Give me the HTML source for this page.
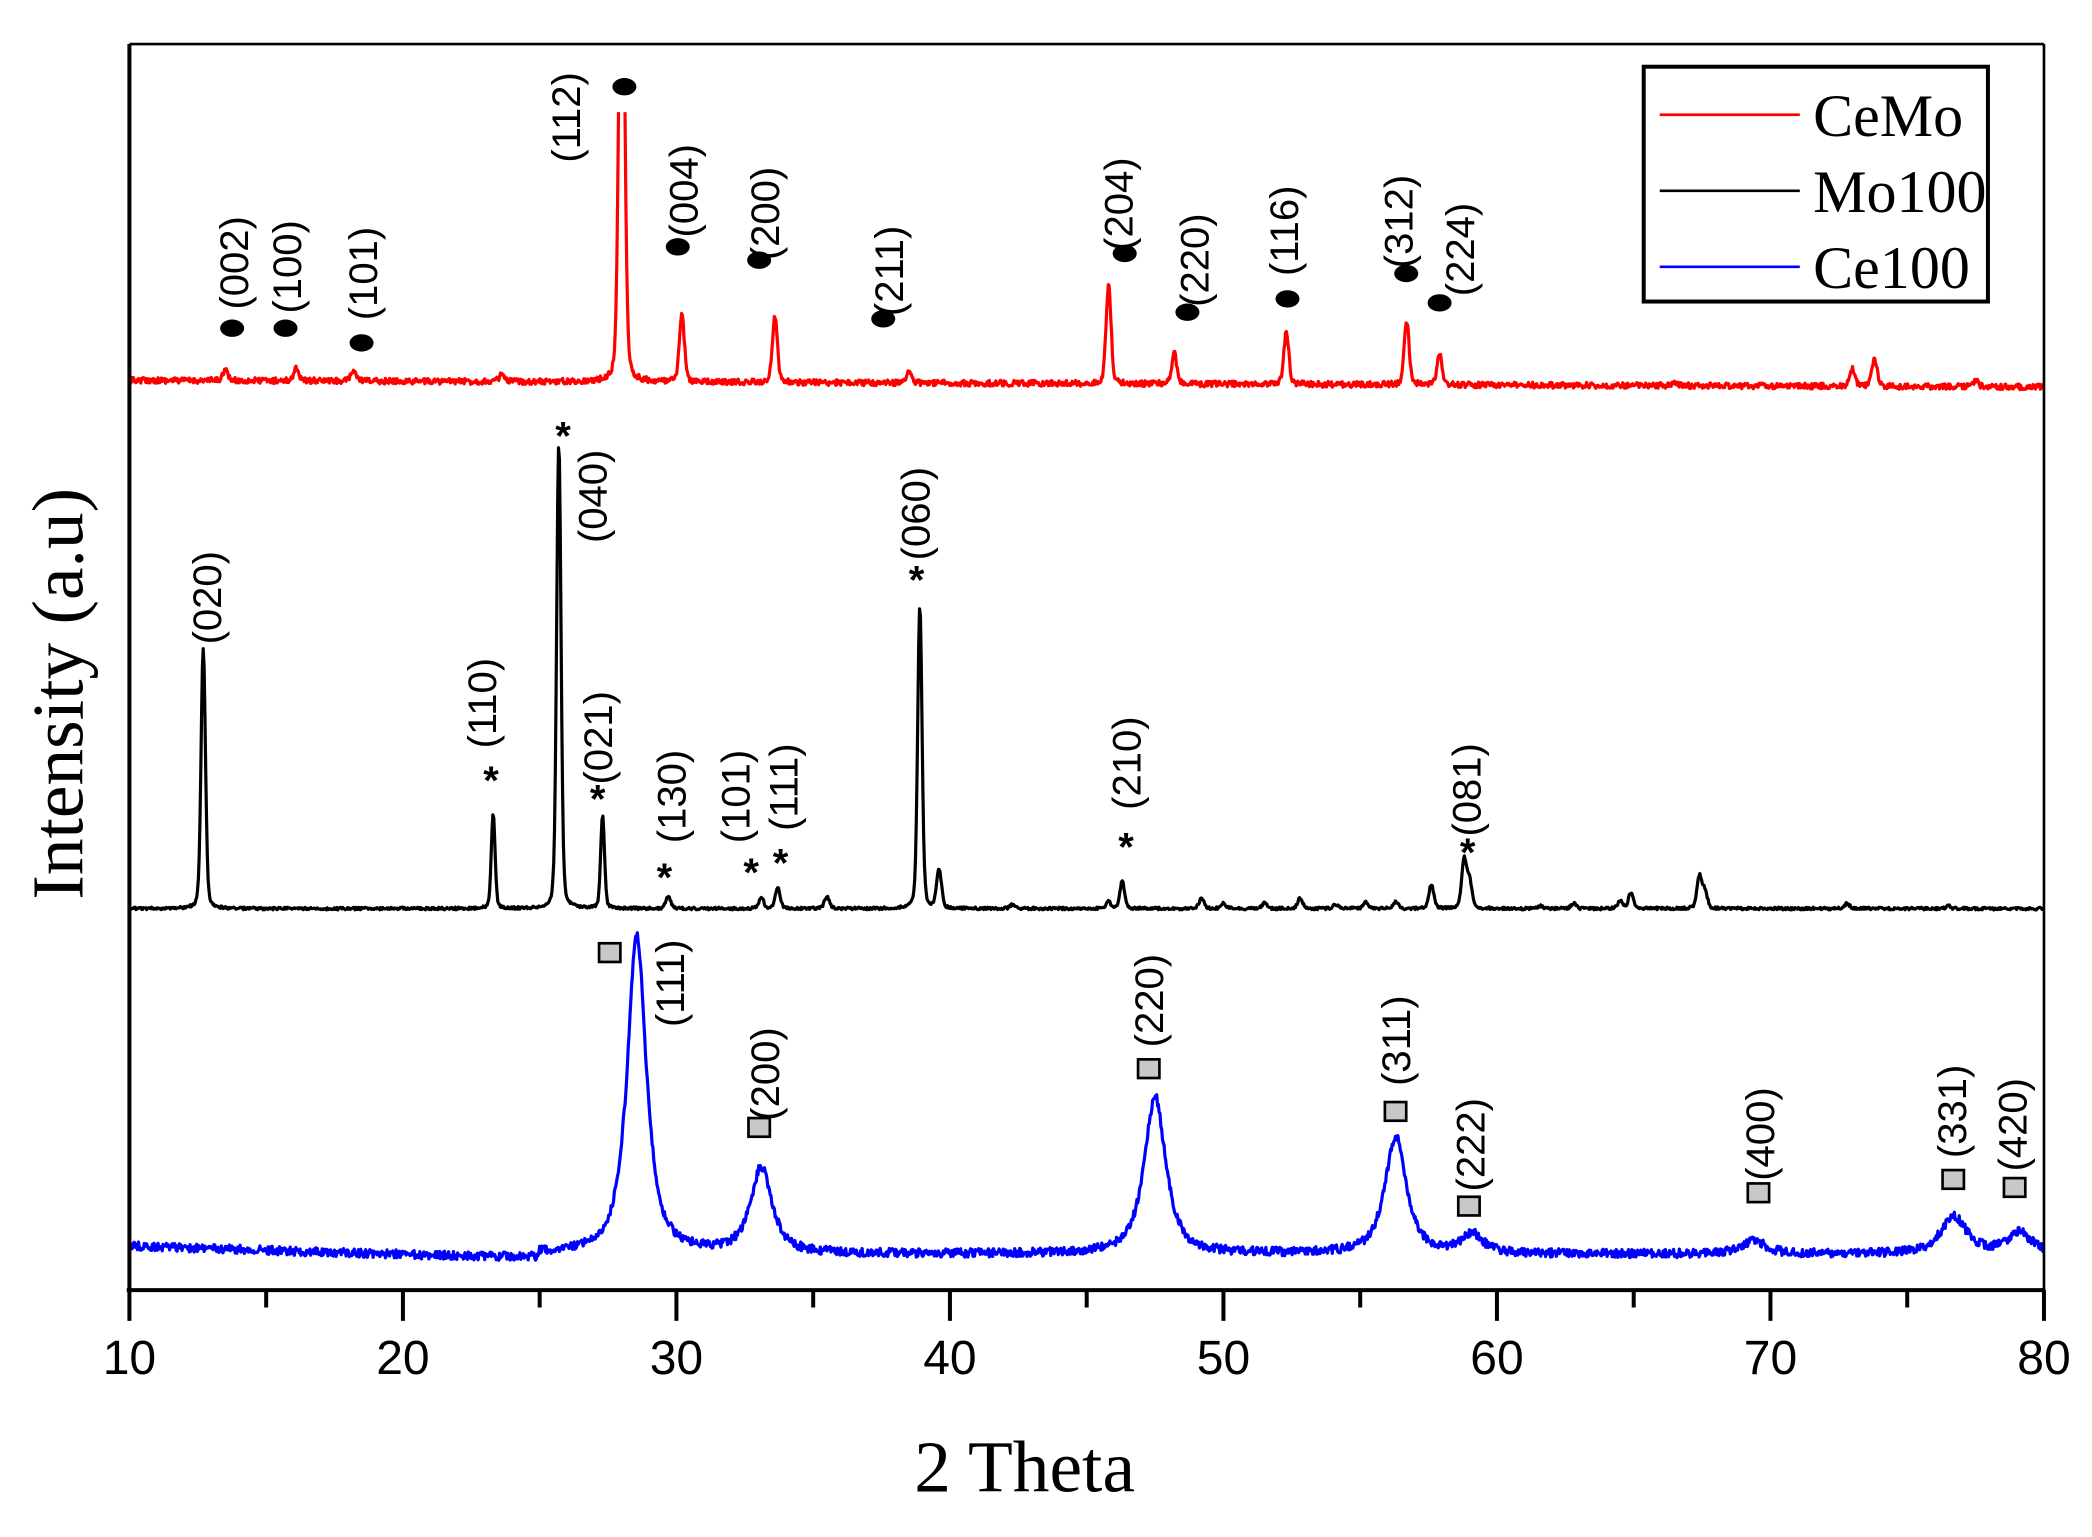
<!DOCTYPE html>
<html><head><meta charset="utf-8"><style>
html,body{margin:0;padding:0;background:#fff;}
svg{display:block;}
.t{font-family:"Liberation Sans",sans-serif;font-size:30px;fill:#000;}
.tk{font-family:"Liberation Sans",sans-serif;font-size:36px;fill:#000;}
.sr{font-family:"Liberation Serif",serif;fill:#000;}
</style></head><body>
<svg id="s" width="2092" height="1537" viewBox="0 0 1568 1152" xmlns="http://www.w3.org/2000/svg">
<defs><clipPath id="cp"><rect x="97" y="84" width="1436" height="900"/></clipPath></defs>
<g id="series" clip-path="url(#cp)"></g>
<g stroke="#000" stroke-width="3" fill="none">
<line x1="97" y1="33" x2="97" y2="967"/>
<line x1="95" y1="967" x2="1533" y2="967"/>
<line x1="97" y1="33" x2="1532" y2="33" stroke-width="2"/>
<line x1="1532" y1="33" x2="1532" y2="967" stroke-width="2"/>
</g>
<g id="ticks" stroke="#000" stroke-width="3"></g>
<g id="tlab"></g>
<text class="sr" x="768" y="1118" font-size="55" text-anchor="middle">2 Theta</text>
<text class="sr" transform="translate(62,520) rotate(-90)" font-size="55" text-anchor="middle">Intensity (a.u)</text>
<rect x="1232" y="50" width="258" height="176" fill="#fff" stroke="#000" stroke-width="3"/>
<line x1="1244" y1="86" x2="1349" y2="86" stroke="#f00" stroke-width="2"/>
<line x1="1244" y1="143" x2="1349" y2="143" stroke="#000" stroke-width="2"/>
<line x1="1244" y1="200" x2="1349" y2="200" stroke="#00f" stroke-width="2"/>
<text class="sr" x="1359" y="102" font-size="45">CeMo</text>
<text class="sr" x="1359" y="159" font-size="45">Mo100</text>
<text class="sr" x="1359" y="216" font-size="45">Ce100</text>
<g id="ann"></g>
</svg>
<script>
var NS="http://www.w3.org/2000/svg";
function X(d){return 97+(d-10)*20.5;}
var seed=12345;function rnd(){seed=(seed*16807)%2147483647;return seed/2147483647;}
function el(tag,attrs,parent,txt){var e=document.createElementNS(NS,tag);for(var k in attrs)e.setAttribute(k,attrs[k]);if(txt!==undefined)e.textContent=txt;document.getElementById(parent).appendChild(e);return e;}
function gauss(x,c,s){return Math.exp(-0.5*((x-c)/s)*((x-c)/s));}
function lor(x,c,w){var u=(x-c)/w;return 1/(1+u*u);}
function series(base,peaks,noise,kind,color){
  var d="";for(var x=10;x<=80.001;x+=0.03){
    var y=base(x);
    for(var i=0;i<peaks.length;i++){var p=peaks[i];var h=p[1];
      var v=kind=="l"?lor(x,p[0],p[2]||0.4)*0.85+0.15*gauss(x,p[0],(p[2]||0.4)):(0.75*gauss(x,p[0],p[2]||0.09)+0.25*lor(x,p[0],(p[2]||0.09)*1.2));
      y-=h*v;}
    y+=(rnd()-0.5)*2*noise;
    d+=(d?"L":"M")+X(x).toFixed(1)+","+y.toFixed(1);}
  el("path",{d:d,fill:"none",stroke:color,"stroke-width":2.4,"stroke-linejoin":"round"},"series");}
series(function(x){return 285+5*(x-10)/70;},[[13.5,8],[16.1,10],[18.2,8],[23.6,5],[28.0,400,0.1],[30.2,51],[33.6,50],[38.5,9],[45.8,75],[48.2,24],[52.3,40],[56.7,48],[57.9,24],[73.0,13],[73.8,22],[77.5,5],[66.5,3]],2.2,"g","#f00");
series(function(x){return 681;},[[12.7,195,0.08],[23.3,70,0.07],[25.7,349,0.08],[27.3,69,0.07],[29.7,9],[33.1,8],[33.7,16],[35.5,9],[38.9,226,0.08],[39.6,29],[42.3,3],[45.8,5],[46.3,20],[49.2,8],[50.0,4],[51.5,4],[52.8,8],[54.1,3],[55.2,5],[56.3,5],[57.6,18],[58.8,36],[59.0,20],[61.6,2],[62.8,4],[64.5,6],[64.9,12],[67.4,24],[67.6,13],[72.8,4],[76.5,2]],1,"g","#000");
series(function(x){var b=940;if(x<25)b=944-10*Math.max(0,(25-x)/15);return b;},[[28.55,240,0.4],[33.1,64,0.45],[47.5,118,0.45],[56.3,88,0.45],[59.1,14,0.45],[69.4,10,0.5],[76.7,28,0.55],[79.1,16,0.5]],3.2,"l","#00f");
for(var v=10;v<=80;v+=5){var major=v%10==0;el("line",{x1:X(v),y1:967,x2:X(v),y2:major?990:980},"ticks");
 if(major)el("text",{x:X(v),y:1030,"text-anchor":"middle","class":"tk"},"tlab",""+v);}
function lab(x,y,t){el("text",{"class":"t",transform:"translate("+x+","+y+") rotate(-90)","text-anchor":"middle","dominant-baseline":"central"},"ann",t);}
function dot(x,y){el("ellipse",{cx:x,cy:y,rx:9,ry:6.5,fill:"#000"},"ann");}
function sq(x,y){el("rect",{x:x-8,y:y-7,width:16,height:14,fill:"#c8c8c8",stroke:"#000","stroke-width":2},"ann");}
function star(x,y){el("text",{x:x,y:y+17,"text-anchor":"middle","class":"t","font-size":"40","font-weight":"bold"},"ann","*");}
[[174,246],[214,246],[271,257],[468,65],[508,185],[569,195],[662,239],[843,190],[890,234],[965,224],[1054,205],[1079,227]].forEach(function(p){dot(p[0],p[1]);});
[[176,197,"(002)"],[216,200,"(100)"],[273,205,"(101)"],[425,88,"(112)"],[513,143,"(004)"],[574,160,"(200)"],[667,203,"(211)"],[839,153,"(204)"],[896,195,"(220)"],[963,173,"(116)"],[1049,166,"(312)"],[1095,187,"(224)"]].forEach(function(p){lab(p[0],p[1],p[2]);});
[[156,448,"(020)"],[362,527,"(110)"],[445,372,"(040)"],[449,553,"(021)"],[504,597,"(130)"],[552,597,"(101)"],[588,590,"(111)"],[687,385,"(060)"],[845,572,"(210)"],[1100,592,"(081)"]].forEach(function(p){lab(p[0],p[1],p[2]);});
[[368,578],[422,320],[448,592],[498,651],[563,647],[585,640],[687,428],[844,628],[1100,632]].forEach(function(p){star(p[0],p[1]);});
[[457,714],[569,845],[861,801],[1046,833],[1101,904],[1318,894],[1464,884],[1510,890]].forEach(function(p){sq(p[0],p[1]);});
[[503,737,"(111)"],[574,805,"(200)"],[862,750,"(220)"],[1047,780,"(311)"],[1103,858,"(222)"],[1320,850,"(400)"],[1464,833,"(331)"],[1509,843,"(420)"]].forEach(function(p){lab(p[0],p[1],p[2]);});
</script>
</body></html>
